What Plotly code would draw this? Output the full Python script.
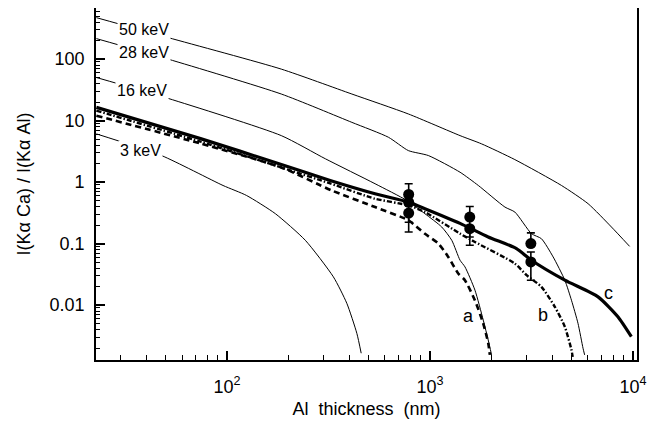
import plotly.graph_objects as go
import numpy as np

# ---- data ----
kev50_x = [22.7, 51.3, 185, 412, 782, 1406, 1795, 2618, 4446, 6010, 7835, 9630]
kev50_y = [471, 223, 68.6, 27, 12.8, 5.69, 4.18, 2.32, 0.88, 0.445, 0.186, 0.090]

kev28_x = [22.7, 51.3, 185, 412, 624, 782, 981, 1406, 1730, 2340, 2620, 3162, 3540, 4043, 4616, 4977, 5360, 5675, 5780]
kev28_y = [215, 99.6, 27, 9.35, 5.35, 3.25, 2.70, 1.445, 0.88, 0.392, 0.325, 0.145, 0.120, 0.0607, 0.0254, 0.0120, 0.00505, 0.00199, 0.00155]

kev16_x = [22.7, 51.3, 185, 305, 536, 768, 944, 1142, 1280, 1406, 1487, 1665, 1829, 1935, 2011]
kev16_y = [50.1, 22.9, 5.69, 2.39, 0.94, 0.503, 0.306, 0.186, 0.113, 0.0536, 0.0418, 0.0175, 0.00571, 0.00271, 0.00155]

kev3_x = [22.7, 47.5, 95.5, 124.5, 173, 243, 334, 389, 436, 458]
kev3_y = [6.07, 2.70, 0.88, 0.607, 0.306, 0.113, 0.0288, 0.0107, 0.00347, 0.00165]

c_x = [22.7, 74, 185, 322, 536, 782, 944, 1406, 1935, 2667, 3162, 4616, 6730, 8430, 9820]
c_y = [16.4, 5.09, 1.93, 1.06, 0.645, 0.472, 0.369, 0.213, 0.128, 0.083, 0.0536, 0.0254, 0.0136, 0.00646, 0.00306]

b_x = [22.7, 74, 185, 322, 536, 782, 944, 1406, 1665, 2618, 2992, 3540, 4121, 4616, 4977, 5047]
b_y = [14.5, 4.55, 1.73, 0.95, 0.536, 0.418, 0.325, 0.145, 0.106, 0.0474, 0.0306, 0.0198, 0.00938, 0.00445, 0.00187, 0.00144]

a_x = [22.7, 74, 185, 328, 536, 782, 944, 1099, 1230, 1377, 1486, 1663, 1828, 1936, 1972]
a_y = [12.0, 4.23, 1.73, 0.73, 0.392, 0.239, 0.144, 0.100, 0.0607, 0.0327, 0.0254, 0.0120, 0.00505, 0.00239, 0.00155]

# measured points: value, upper bound, lower bound
pts_x = [785, 785, 785, 1570, 1570, 3140, 3140]
pts_y = [0.63, 0.47, 0.313, 0.27, 0.175, 0.10, 0.0504]
pts_hi = [0.94, 0.47, 0.313, 0.40, 0.175, 0.149, 0.073]
pts_lo = [0.222, 0.47, 0.154, 0.128, 0.094, 0.10, 0.0254]

x_major = [100, 1000, 10000]
x_major_text = ["10<sup>2</sup>", "10<sup>3</sup>", "10<sup>4</sup>"]
y_major = [0.01, 0.1, 1, 10, 100]
y_major_text = ["0.01", "0.1", "1", "10", "100"]

FONT = "Liberation Sans, Arial, Helvetica, sans-serif"

fig = go.Figure()

thin = dict(color="black", width=1, shape="spline", smoothing=0.6)
for xs, ys in [(kev50_x, kev50_y), (kev28_x, kev28_y), (kev16_x, kev16_y), (kev3_x, kev3_y)]:
    fig.add_trace(go.Scatter(x=xs, y=ys, mode="lines", line=thin, showlegend=False))

fig.add_trace(go.Scatter(x=a_x, y=a_y, mode="lines", showlegend=False,
                         line=dict(color="black", width=2.6, dash="6px,4px",
                                   shape="spline", smoothing=0.6)))
fig.add_trace(go.Scatter(x=b_x, y=b_y, mode="lines", showlegend=False,
                         line=dict(color="black", width=2.4, dash="5px,2px,1.5px,2px",
                                   shape="spline", smoothing=0.6)))
fig.add_trace(go.Scatter(x=c_x, y=c_y, mode="lines", showlegend=False,
                         line=dict(color="black", width=3.2, shape="spline", smoothing=0.6)))

ep = [h - v for h, v in zip(pts_hi, pts_y)]
em = [v - l for v, l in zip(pts_y, pts_lo)]
fig.add_trace(go.Scatter(x=pts_x, y=pts_y, mode="markers", showlegend=False,
                         marker=dict(color="black", size=11),
                         error_y=dict(type="data", symmetric=False, array=ep, arrayminus=em,
                                      color="black", thickness=1.6, width=4)))

minor_x = [m * 10 ** d for d in (1, 2, 3) for m in range(2, 10) if 22 < m * 10 ** d < 10500]
minor_y = [m * 10.0 ** d for d in (-3, -2, -1, 0, 1, 2) for m in range(2, 10)]

fig.update_xaxes(type="log", range=[np.log10(22.6), np.log10(10470)], automargin=False,
                 tickmode="array", tickvals=x_major, ticktext=x_major_text,
                 ticks="inside", ticklen=9, tickwidth=1.5, tickcolor="black",
                 minor=dict(tickmode="array", tickvals=minor_x, ticks="inside", ticklen=5,
                            tickwidth=1.2, tickcolor="black", showgrid=False),
                 showgrid=False, zeroline=False, showline=True, linecolor="black",
                 linewidth=1.8, mirror=True, ticklabelstandoff=9,
                 tickfont=dict(family=FONT, size=18, color="black"),
                 title=dict(text="Al\u00a0 thickness\u00a0 (nm)", standoff=13,
                            font=dict(family=FONT, size=18, color="black")))
fig.update_yaxes(type="log", range=[np.log10(0.00128), np.log10(676)], automargin=False,
                 tickmode="array", tickvals=y_major, ticktext=y_major_text,
                 ticks="inside", ticklen=9, tickwidth=1.5, tickcolor="black",
                 minor=dict(tickmode="array", tickvals=minor_y, ticks="inside", ticklen=4,
                            tickwidth=1.2, tickcolor="black", showgrid=False),
                 showgrid=False, zeroline=False, showline=True, linecolor="black",
                 linewidth=1.8, mirror=True, ticklabelstandoff=6,
                 tickfont=dict(family=FONT, size=18, color="black"),
                 title=dict(text="I(K\u03b1 Ca) / I(K\u03b1 Al)", standoff=14,
                            font=dict(family=FONT, size=18, color="black")))

labels = [("50 keV", 1.591, 2.473), ("28 keV", 1.591, 2.10),
          ("16 keV", 1.583, 1.485), ("3 keV", 1.574, 0.512)]
for t, lx, ly in labels:
    fig.add_annotation(x=lx, y=ly, xref="x", yref="y", text=t, showarrow=False,
                       bgcolor="white", borderpad=1,
                       font=dict(family=FONT, size=16, color="black"))
for t, lx, ly in [("a", 3.188, -2.178), ("b", 3.557, -2.162), ("c", 3.880, -1.805)]:
    fig.add_annotation(x=lx, y=ly, xref="x", yref="y", text=t, showarrow=False,
                       font=dict(family=FONT, size=18, color="black"))

# page body has an 8px margin, so the figure is sized/offset to compensate
fig.update_layout(width=639, height=411, margin=dict(l=88, r=10, t=0, b=59),
                  plot_bgcolor="white", paper_bgcolor="white",
                  font=dict(family=FONT, color="black"))

fig.write_html("out.html")
